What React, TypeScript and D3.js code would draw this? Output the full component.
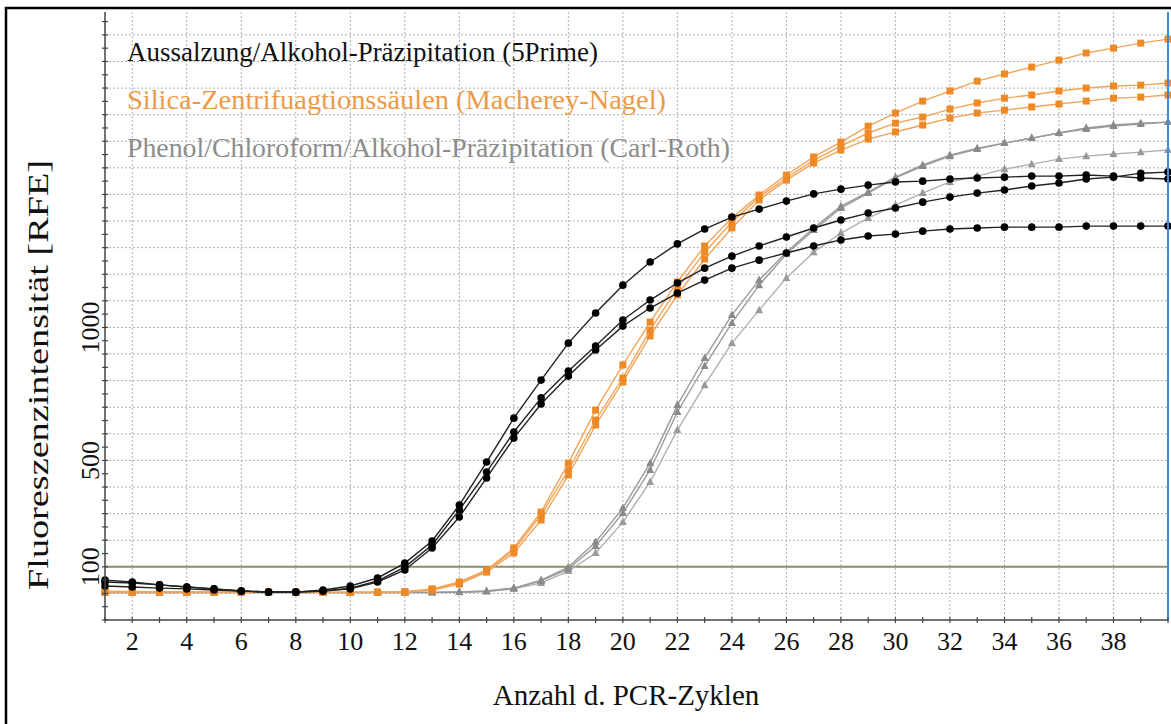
import React from 'react';
import * as d3 from 'd3';

// Cycles 1..40
const cycles = [1,2,3,4,5,6,7,8,9,10,11,12,13,14,15,16,17,18,19,20,21,22,23,24,25,26,27,28,29,30,31,32,33,34,35,36,37,38,39,40];

// Aussalzung/Alkohol-Präzipitation (5Prime) – black circles
const black1 = [50,43,32,24,17,9,5,5,13,28, 58,114,197,332,494,659,802,941,1054,1159, 1246,1314,1370,1415,1445,1475,1502,1520,1535,1547, 1550,1558,1562,1565,1569,1569,1573,1569,1562,1558];
const black2 = [43,39,32,24,17,9,5,5,9,20, 47,99,182,314,456,607,735,836,930,1028, 1103,1167,1223,1268,1306,1340,1374,1404,1430,1449, 1471,1490,1505,1517,1532,1543,1558,1565,1580,1584];
const black3 = [28,24,20,17,13,9,5,5,9,17, 43,88,171,287,434,584,712,817,915,1005, 1073,1129,1178,1223,1253,1280,1306,1329,1344,1351, 1362,1370,1374,1377,1377,1377,1381,1381,1381,1381];

// Silica-Zentrifuagtionssäulen (Macherey-Nagel) – orange squares
const orange1 = [8,7,6,5,5,4,4,4,4,4, 5,6,17,43,88,171,306,490,689,859, 1020,1171,1306,1411,1498,1573,1641,1697,1757,1806, 1851,1889,1926,1953,1979,2005,2032,2050,2069,2084];
const orange2 = [6,6,5,5,4,4,4,4,4,4, 4,5,13,39,84,163,295,464,652,810, 990,1148,1283,1396,1490,1562,1629,1682,1731,1768, 1791,1821,1844,1862,1874,1889,1900,1908,1911,1919];
const orange3 = [5,5,5,4,4,4,4,4,4,4, 4,5,13,35,80,152,276,445,633,795, 968,1122,1257,1374,1479,1554,1618,1667,1708,1735, 1761,1787,1806,1817,1829,1840,1851,1862,1866,1874];

// Phenol/Chloroform/Alkohol-Präzipitation (Carl-Roth) – grey triangles
const grey1 = [4,4,4,4,4,4,4,4,4,4, 4,4,4,5,8,20,50,99,193,321, 490,708,885,1047,1178,1283,1374,1456,1509,1565, 1611,1648,1674,1693,1712,1731,1750,1761,1768,1772];
const grey2 = [3,3,3,3,3,3,3,3,3,3, 3,3,4,5,9,20,47,92,178,302, 464,682,855,1017,1159,1276,1366,1449,1505,1562, 1607,1644,1671,1693,1712,1731,1746,1757,1765,1772];
const grey3 = [3,3,3,3,3,3,3,3,3,3, 3,3,3,4,7,17,39,84,152,268, 419,614,783,941,1065,1186,1283,1355,1411,1460, 1505,1547,1569,1595,1614,1633,1644,1652,1659,1667];

const xTickLabels = [2,4,6,8,10,12,14,16,18,20,22,24,26,28,30,32,34,36,38];
const yTickLabels = [100,500,1000];
const threshold = 100;
const legendLabels = [
  'Aussalzung/Alkohol-Präzipitation (5Prime)',
  'Silica-Zentrifuagtionssäulen (Macherey-Nagel)',
  'Phenol/Chloroform/Alkohol-Präzipitation (Carl-Roth)',
];
const xTitle = 'Anzahl d. PCR-Zyklen';
const yTitle = 'Fluoreszenzintensität [RFE]';

const W = 1171, H = 724;
const FONT = '"Liberation Serif", "Times New Roman", serif';

export default function App() {
  const x = d3.scaleLinear().domain([1, 40]).range([105, 1168]);
  const y = d3.scaleLinear().domain([-100, 2186]).range([620, 12]);
  const line = d3.line<number>().x((_, i) => x(cycles[i])).y(d => y(d));

  const gridY = d3.range(0, 2101, 100);
  const minorY = d3.range(-100, 2151, 50);

  const series = [
    { data: grey3, line: '#b0b0b0', mark: '#9a9a9a', shape: 'tri' },
    { data: grey2, line: '#9a9a9a', mark: '#8a8a8a', shape: 'tri' },
    { data: grey1, line: '#9a9a9a', mark: '#8a8a8a', shape: 'tri' },
    { data: orange3, line: '#f2a55a', mark: '#ee8a26', shape: 'sq' },
    { data: orange2, line: '#f2a55a', mark: '#ee8a26', shape: 'sq' },
    { data: orange1, line: '#f2a55a', mark: '#ee8a26', shape: 'sq' },
    { data: black3, line: '#222', mark: '#000', shape: 'circ' },
    { data: black2, line: '#222', mark: '#000', shape: 'circ' },
    { data: black1, line: '#222', mark: '#000', shape: 'circ' },
  ];

  const legendColors = ['#111', '#ec9a48', '#8c8c8c'];
  const legendWidths = [471, 539, 603];

  return (
    <svg width={W} height={H} style={{ position: 'absolute', left: 0, top: 0, background: '#fff' }} fontFamily={FONT}>
      <rect x={0} y={0} width={W} height={H} fill="#fff" />
      {/* grid */}
      {gridY.map(v => (
        <line key={'gy' + v} x1={x(1)} x2={x(40)} y1={y(v)} y2={y(v)} stroke="#b0b0b0" strokeWidth={1} strokeDasharray="2,2" />
      ))}
      {xTickLabels.map(c => (
        <line key={'gx' + c} x1={x(c)} x2={x(c)} y1={12} y2={620} stroke="#b0b0b0" strokeWidth={1} strokeDasharray="2,2" />
      ))}
      {/* threshold */}
      <line x1={x(1)} x2={x(40)} y1={y(threshold)} y2={y(threshold)} stroke="#8e8e66" strokeWidth={2} />
      {/* series */}
      {series.map((s, si) => (
        <g key={'s' + si}>
          <path d={line(s.data) || ''} fill="none" stroke={s.line} strokeWidth={1.4} />
          {s.data.map((v, i) => {
            const cx = x(cycles[i]), cy = y(v);
            if (s.shape === 'circ') return <circle key={i} cx={cx} cy={cy} r={3.8} fill={s.mark} />;
            if (s.shape === 'sq') return <rect key={i} x={cx - 3.5} y={cy - 3.5} width={7} height={7} fill={s.mark} />;
            return <path key={i} d={`M${cx},${cy - 4.5}L${cx + 4},${cy + 3}L${cx - 4},${cy + 3}Z`} fill={s.mark} />;
          })}
        </g>
      ))}
      {/* right blue line */}
      <line x1={x(40)} x2={x(40)} y1={12} y2={621} stroke="#3a8fdc" strokeWidth={2} />
      {/* axes */}
      <line x1={x(1)} x2={x(1)} y1={12} y2={620} stroke="#444" strokeWidth={1.5} />
      {minorY.map(v => (
        <line key={'ty' + v} x1={x(1) - 3} x2={x(1) + 3} y1={y(v)} y2={y(v)} stroke="#444" strokeWidth={1.2} />
      ))}
      <line x1={x(1)} x2={x(40)} y1={620} y2={620} stroke="#444" strokeWidth={1.5} />
      {cycles.map(c => (
        <line key={'tx' + c} x1={x(c)} x2={x(c)} y1={617} y2={623} stroke="#444" strokeWidth={1.2} />
      ))}
      {/* tick labels */}
      {xTickLabels.map(c => (
        <text key={'lx' + c} x={x(c)} y={650} fontSize={26} textAnchor="middle" fill="#111">{c}</text>
      ))}
      {yTickLabels.map(v => (
        <text key={'ly' + v} transform={`translate(99,${y(v)}) rotate(-90)`} fontSize={26} textAnchor="middle" fill="#111">{v}</text>
      ))}
      {/* titles */}
      <text x={626} y={705} fontSize={29} textAnchor="middle" fill="#111">{xTitle}</text>
      <text transform={`translate(48,375) rotate(-90)`} fontSize={30} textAnchor="middle" fill="#111"
        textLength={430} lengthAdjust="spacingAndGlyphs">{yTitle}</text>
      {/* legend */}
      {legendLabels.map((l, i) => (
        <text key={'lg' + i} x={127} y={61 + i * 48} fontSize={27} fill={legendColors[i]}
          textLength={legendWidths[i]} lengthAdjust="spacingAndGlyphs">{l}</text>
      ))}
      {/* frame */}
      <rect x={6} y={8} width={1300} height={900} fill="none" stroke="#000" strokeWidth={2.5} />
    </svg>
  );
}
